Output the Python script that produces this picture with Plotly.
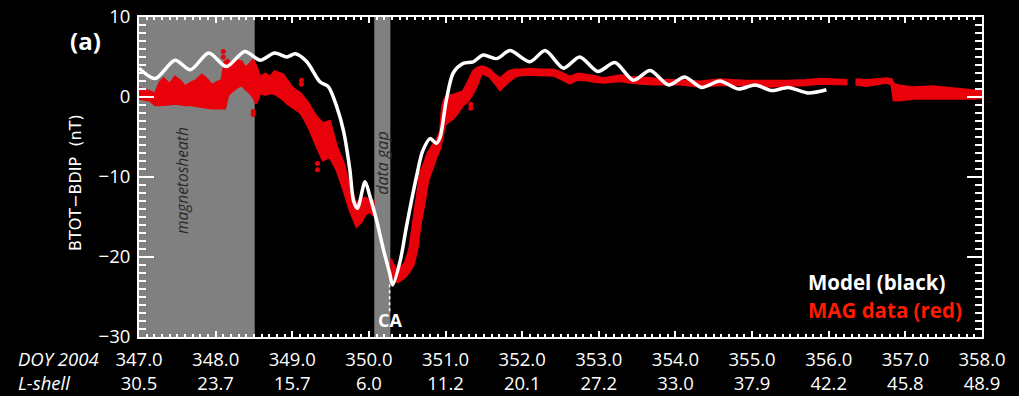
import plotly.graph_objects as go

# ---------------- data ----------------
doy_ticks = [347, 348, 349, 350, 351, 352, 353, 354, 355, 356, 357, 358]
lshell_labels = ["30.5", "23.7", "15.7", "6.0", "11.2", "20.1", "27.2", "33.0", "37.9", "42.2", "45.8", "48.9"]
y_ticks = [-30, -20, -10, 0, 10]

magnetosheath = [347.0, 348.51]
data_gap = [350.07, 350.28]
ca_day = 350.27
ca_line = [-23.4, -26.8]

model_day = [347.00, 347.21, 347.47, 347.67, 347.91, 348.14, 348.38, 348.58, 348.77, 348.93,
             349.04, 349.19, 349.36, 349.47, 349.58, 349.67, 349.75, 349.80, 349.85, 349.95,
             350.01, 350.10, 350.19, 350.27, 350.31, 350.41, 350.49, 350.62, 350.70, 350.80,
             350.88, 350.93, 351.01, 351.10, 351.23, 351.36, 351.49, 351.67, 351.84, 352.10,
             352.30, 352.54, 352.75, 352.99, 353.21, 353.45, 353.67, 353.91, 354.12, 354.34,
             354.58, 354.82, 355.04, 355.26, 355.47, 355.73, 355.97]
model_val = [3.6, 2.3, 4.6, 3.4, 5.5, 3.8, 5.7, 4.6, 5.5, 5.0,
             5.4, 4.4, 1.9, 1.3, -1.2, -4.3, -9.0, -13.0, -13.9, -10.6,
             -12.3, -15.4, -19.1, -22.0, -23.5, -20.4, -16.2, -10.0, -6.8, -5.2,
             -5.8, -5.0, -0.4, 3.0, 4.2, 4.4, 5.25, 4.8, 5.8, 4.4,
             5.8, 3.6, 5.0, 3.2, 4.3, 2.1, 3.3, 1.5, 2.5, 1.2,
             2.0, 1.0, 1.5, 0.8, 1.2, 0.5, 0.9]

# MAG data: upper / lower envelope of the measured band, in three segments
mag1_day = [347.00, 347.07, 347.14, 347.21, 347.27, 347.32, 347.40, 347.47, 347.54, 347.60,
            347.68, 347.75, 347.82, 347.88, 347.95, 348.03, 348.08, 348.12, 348.16, 348.21,
            348.28, 348.34, 348.39, 348.43, 348.49, 348.53, 348.58, 348.65, 348.71, 348.77,
            348.82, 348.88, 348.93, 348.99, 349.05, 349.10, 349.16, 349.21, 349.27, 349.32,
            349.40, 349.49, 349.58, 349.67, 349.75, 349.84, 349.90, 349.95, 350.01, 350.06]
mag1_hi = [1.1, 0.9, 0.7, 0.4, 1.8, 2.3, 1.6, 2.5, 2.0, 1.3,
           1.8, 2.1, 2.75, 2.3, 1.5, 1.9, 2.1, 4.4, 4.6, 4.0,
           4.6, 4.4, 3.6, 4.0, 4.6, 3.8, 2.5, 2.9, 2.5, 3.2,
           3.0, 2.8, 2.1, 1.3, 0.8, 0.5, -0.2, -0.8, -1.8, -2.5,
           -3.3, -3.0, -6.2, -8.3, -11.2, -13.4, -12.8, -12.6, -12.9, -13.0]
mag1_lo = [-0.2, -0.3, -0.4, -1.0, -1.0, -1.0, -0.9, -0.8, -0.9, -1.0,
           -1.0, -1.1, -1.2, -1.3, -1.4, -1.4, -1.4, -1.4, 0.2, 0.7,
           1.2, 1.5, 1.0, 0.7, 0.0, -0.8, 0.5, 0.3, 0.5, 0.4,
           0.05, -0.3, -0.8, -1.2, -1.6, -1.9, -2.8, -3.7, -5.0, -6.2,
           -7.9, -7.5, -9.1, -11.6, -14.1, -16.2, -15.6, -14.7, -14.3, -14.8]

mag2_day = [350.28, 350.33, 350.38, 350.47, 350.53, 350.58, 350.63, 350.67, 350.72, 350.77,
            350.82, 350.88, 350.93, 350.96, 350.99, 351.05, 351.10, 351.17, 351.23, 351.30,
            351.36, 351.41, 351.47, 351.52, 351.58, 351.64, 351.71, 351.77, 351.82, 351.90,
            351.97, 352.10, 352.23, 352.41, 352.52, 352.62, 352.73, 352.84, 352.95, 353.06,
            353.17, 353.28, 353.40, 353.55, 353.70, 353.85, 354.06, 354.32, 354.58, 354.93,
            355.20, 355.45, 355.70, 355.89, 356.05, 356.23]
mag2_hi = [-20.2, -21.2, -21.6, -20.8, -19.0, -15.5, -12.0, -9.5, -8.3, -7.0,
           -6.2, -5.4, -4.3, -1.0, -0.2, 0.2, 0.25, 0.5, 0.7, 2.0,
           3.2, 3.6, 3.8, 3.7, 3.4, 2.8, 2.3, 2.8, 3.2, 3.4,
           3.4, 3.5, 3.4, 3.4, 3.0, 2.5, 2.9, 2.75, 2.6, 2.3,
           2.5, 2.7, 2.5, 2.4, 2.3, 2.1, 2.1, 1.9, 2.2, 2.0,
           2.0, 2.0, 2.1, 2.25, 2.2, 2.1]
mag2_lo = [-22.5, -23.0, -23.1, -22.5, -21.8, -21.0, -19.0, -16.0, -13.5, -10.5,
           -9.0, -7.5, -6.4, -5.0, -3.5, -3.0, -2.7, -1.8, -1.0, -0.4,
           0.5, 1.5, 3.0, 2.8, 2.5, 1.8, 0.9, 1.4, 1.9, 2.5,
           2.75, 2.8, 2.75, 2.7, 2.2, 1.7, 2.2, 2.1, 1.9, 1.8,
           1.9, 2.0, 1.8, 1.7, 1.6, 1.6, 1.6, 1.3, 1.5, 1.5,
           1.3, 1.4, 1.5, 1.7, 1.7, 1.6]

mag3_day = [356.35, 356.49, 356.62, 356.75, 356.82, 356.85, 356.93, 357.10, 357.36, 357.63, 357.89, 358.02]
mag3_hi = [2.2, 2.1, 2.2, 2.3, 2.2, 1.6, 1.4, 1.2, 1.3, 1.0, 0.8, 0.8]
mag3_lo = [1.6, 1.4, 1.6, 1.8, 1.6, -0.4, -0.4, -0.2, -0.2, -0.2, -0.2, -0.1]

# isolated MAG points outside the band
spike_day = [348.10, 348.10, 348.11, 348.11, 348.49, 348.49, 349.12, 349.12, 349.33, 349.33, 351.33, 351.33]
spike_val = [5.0, 5.7, 0.5, -1.0, -1.8, -2.2, 1.6, 2.1, -8.3, -9.1, -0.9, -1.4]

# ---------------- figure ----------------
RED = "#e8000b"
fig = go.Figure()

for d, hi, lo in [(mag1_day, mag1_hi, mag1_lo), (mag2_day, mag2_hi, mag2_lo), (mag3_day, mag3_hi, mag3_lo)]:
    fig.add_trace(go.Scatter(
        x=list(d) + list(d)[::-1], y=list(hi) + list(lo)[::-1],
        mode="lines", fill="toself", fillcolor=RED,
        line=dict(color=RED, width=2.5), hoverinfo="skip", showlegend=False))

fig.add_trace(go.Scatter(x=spike_day, y=spike_val, mode="markers",
                         marker=dict(color=RED, size=5), showlegend=False))

fig.add_trace(go.Scatter(x=model_day, y=model_val, mode="lines",
                         line=dict(color="white", width=3.5, shape="spline", smoothing=0.8),
                         showlegend=False))

fig.add_trace(go.Scatter(x=[ca_day, ca_day], y=ca_line, mode="lines",
                         line=dict(color="white", width=1.5, dash="dot"), showlegend=False))

# shaded regions
for x0, x1 in [magnetosheath, data_gap]:
    fig.add_shape(type="rect", xref="x", yref="paper", x0=x0, x1=x1, y0=0, y1=1,
                  fillcolor="#808080", line=dict(width=0), layer="below")

FONT = "Open Sans"
fig.update_layout(
    width=1019, height=396,
    margin=dict(l=139, r=37, t=17, b=59, autoexpand=False),
    paper_bgcolor="black", plot_bgcolor="black", showlegend=False,
    font=dict(family=FONT, color="white", size=18),
    xaxis=dict(range=[347, 358], tickvals=doy_ticks, automargin=False,
               ticktext=[f"{d:.1f}<br>{l}" for d, l in zip(doy_ticks, lshell_labels)],
               showgrid=False, zeroline=False, showline=True, linecolor="white", linewidth=2,
               mirror="ticks", ticks="inside", ticklen=6, tickwidth=2, tickcolor="white",
               ticklabelstandoff=5,
               minor=dict(dtick=0.1, ticks="inside", ticklen=3, tickwidth=1.5, tickcolor="white"),
               tickfont=dict(size=18.5, color="white")),
    yaxis=dict(range=[-30, 10], tickvals=y_ticks, showgrid=False, zeroline=False, automargin=False,
               showline=True, linecolor="white", linewidth=2, mirror="ticks",
               ticks="inside", ticklen=15, tickwidth=2, tickcolor="white",
               ticklabelstandoff=3,
               minor=dict(dtick=1, ticks="inside", ticklen=7, tickwidth=1.5, tickcolor="white"),
               tickfont=dict(size=18.5, color="white")),
)

def pa(text, x, y, size, color="white", family=FONT, xanchor="center", **font_kw):
    return dict(text=text, x=x, y=y, xref="paper", yref="paper", showarrow=False,
                xanchor=xanchor, yanchor="middle",
                font=dict(size=size, color=color, family=family, **font_kw))

annotations = [
    pa("(a)", -0.064, 0.928, 24, weight="bold"),
    dict(text="BTOT\u2212BDIP  (nT)", x=-0.076, y=0.484, xref="paper", yref="paper",
         xanchor="center", yanchor="middle", showarrow=False, textangle=-90,
         font=dict(size=16, color="white", family="DejaVu Sans")),
    pa("DOY 2004", -0.146, -0.066, 18.5, xanchor="left", style="italic"),
    pa("L-shell", -0.146, -0.141, 18.5, xanchor="left", style="italic"),
    dict(text="magnetosheath", x=347.56, y=-10.4, xref="x", yref="y", textangle=-90,
         showarrow=False, font=dict(size=15.5, color="#2a2a2a", family=FONT, style="italic")),
    dict(text="data gap", x=350.175, y=-8.3, xref="x", yref="y", textangle=-90,
         showarrow=False, font=dict(size=16, color="#2a2a2a", family=FONT, style="italic")),
    dict(text="CA", x=ca_day, y=-27.9, xref="x", yref="y", showarrow=False,
         font=dict(size=18, color="white", family=FONT, weight="bold")),
    pa("Model (black)", 0.791, 0.172, 20.5, xanchor="left", weight="bold"),
    pa("MAG data (red)", 0.791, 0.084, 20.5, color="#ff1a00", xanchor="left", weight="bold"),
]
fig.update_layout(annotations=annotations)

fig.write_html("out.html")
